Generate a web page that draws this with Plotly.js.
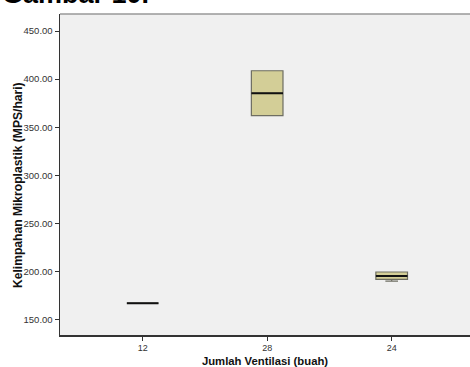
<!DOCTYPE html>
<html>
<head>
<meta charset="utf-8">
<script src="https://cdn.plot.ly/plotly-3.0.1.min.js"></script>
<style>html,body{margin:0;padding:0;background:#fff;}#chart{width:470px;height:367px;}</style>
</head>
<body>
<div id="chart"></div>
<script>
var categories = ['12', '28', '24'];
var q1Values = [167, 362, 191.8];
var medianValues = [167, 385.2, 195.3];
var q3Values = [167, 408.7, 199.4];
var lowerFences = [167, 362, 190];
var upperFences = [167, 408.7, 199.4];
var yTickValues = [150, 200, 250, 300, 350, 400, 450];

var boxTrace = {
  type: 'box',
  x: categories,
  q1: q1Values,
  median: medianValues,
  q3: q3Values,
  lowerfence: lowerFences,
  upperfence: upperFences,
  width: 0.254,
  whiskerwidth: 0.4,
  fillcolor: '#d3ce97',
  line: {color: '#6e6e62', width: 1.2},
  hoverinfo: 'skip',
  showlegend: false
};
var medianTrace = {
  type: 'box',
  x: categories,
  q1: medianValues,
  median: medianValues,
  q3: medianValues,
  lowerfence: medianValues,
  upperfence: medianValues,
  width: 0.254,
  whiskerwidth: 0,
  fillcolor: 'rgba(0,0,0,0)',
  line: {color: '#111111', width: 2},
  hoverinfo: 'skip',
  showlegend: false
};

var layout = {
  width: 470, height: 367,
  margin: {l: 60, r: 0, t: 14, b: 32, pad: 0},
  paper_bgcolor: '#ffffff',
  plot_bgcolor: '#f0f0f0',
  font: {family: 'Liberation Sans, Arial, sans-serif', color: '#222'},
  xaxis: {
    type: 'category',
    range: [-0.664, 2.629],
    showgrid: false, zeroline: false,
    showline: true, linecolor: '#333', linewidth: 1.5,
    ticks: 'outside', ticklen: 4, tickcolor: '#333',
    tickfont: {size: 9, color: '#333'},
    title: {text: 'Jumlah Ventilasi (buah)', font: {size: 11.3, color: '#111', weight: 'bold'}, standoff: 5}
  },
  yaxis: {
    range: [133.9, 467.7],
    tickvals: yTickValues,
    tickformat: '.2f',
    showgrid: false, zeroline: false,
    showline: true, linecolor: '#333', linewidth: 1.5,
    ticks: 'outside', ticklen: 4, tickcolor: '#333',
    tickfont: {size: 9.5, color: '#333'}
  },
  shapes: [{
    type: 'line', xref: 'paper', yref: 'paper', x0: 0, x1: 1, y0: 1, y1: 1,
    line: {color: '#999', width: 1.5}
  }],
  annotations: [{
    text: 'Gambar 10.',
    xref: 'paper', yref: 'paper',
    x: -60/410, y: 1 + 3/321,
    xanchor: 'left', yanchor: 'bottom',
    showarrow: false,
    font: {size: 27, color: '#000', weight: 'bold', family: 'Liberation Sans, Arial, sans-serif'}
  }, {
    text: 'Kelimpahan Mikroplastik (MPS/hari)',
    xref: 'paper', yref: 'paper',
    x: -42/410, y: 1 - (185 - 14)/321,
    xanchor: 'center', yanchor: 'middle',
    textangle: -90,
    showarrow: false,
    font: {size: 12.1, color: '#111', weight: 'bold', family: 'Liberation Sans, Arial, sans-serif'}
  }]
};

Plotly.newPlot('chart', [boxTrace, medianTrace], layout, {staticPlot: true, displayModeBar: false});
</script>
</body>
</html>
